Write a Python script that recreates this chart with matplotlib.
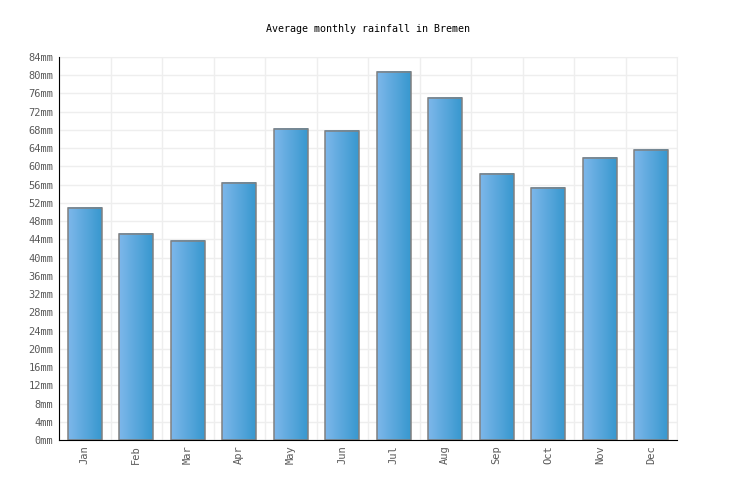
import numpy as np
import matplotlib.pyplot as plt
from matplotlib.colors import LinearSegmentedColormap

months = ["Jan", "Feb", "Mar", "Apr", "May", "Jun",
          "Jul", "Aug", "Sep", "Oct", "Nov", "Dec"]
rainfall = [50.9, 45.2, 43.7, 56.4, 68.3, 67.8, 80.8, 75.1, 58.4, 55.3, 61.9, 63.7]
y_ticks = list(range(0, 85, 4))
y_labels = [f"{v}mm" for v in y_ticks]

fig = plt.figure(figsize=(7.36, 5), dpi=100)
ax = fig.add_axes([59 / 736, 60 / 500, 618 / 736, 383 / 500])

x = np.arange(len(months))
width = 0.66
grad_cmap = LinearSegmentedColormap.from_list("bar", ["#7db7ea", "#3898cf"])
grad = np.linspace(0, 1, 64).reshape(1, -1)

# gradient fill per bar, then outline on top
for xi, h in zip(x, rainfall):
    ax.imshow(grad, cmap=grad_cmap, aspect="auto", zorder=2,
              extent=[xi - width / 2, xi + width / 2, 0, h], interpolation="bilinear")
ax.bar(x, rainfall, width=width, facecolor="none", edgecolor="#808080",
       linewidth=1.1, zorder=3)

ax.set_xlim(-0.5, len(months) - 0.5)
ax.set_ylim(0, 84)
ax.set_xticks(x)
ax.set_xticklabels(months, rotation=90, family="DejaVu Sans Mono", fontsize=7.5, color="#5a5a5a")
ax.set_yticks(y_ticks)
ax.set_yticklabels(y_labels, family="DejaVu Sans Mono", fontsize=7.5, color="#5a5a5a")
ax.set_xticks(np.arange(-0.5, len(months), 1), minor=True)
ax.tick_params(axis="both", which="both", length=0, pad=4)

ax.grid(True, axis="y", which="major", color="#eeeeee", linewidth=1, zorder=0)
ax.grid(True, axis="x", which="minor", color="#eeeeee", linewidth=1, zorder=0)
ax.grid(False, axis="x", which="major")
ax.set_axisbelow(True)

for side in ["top", "right"]:
    ax.spines[side].set_color("#eeeeee")
ax.spines["left"].set_color("black")
ax.spines["bottom"].set_color("black")
ax.spines["left"].set_zorder(4)
ax.spines["bottom"].set_zorder(4)

fig.text(0.5, 0.942, "Average monthly rainfall in Bremen", ha="center", va="center",
         family="DejaVu Sans Mono", fontsize=7.2, color="black")

fig.savefig("out.png", dpi=100)
